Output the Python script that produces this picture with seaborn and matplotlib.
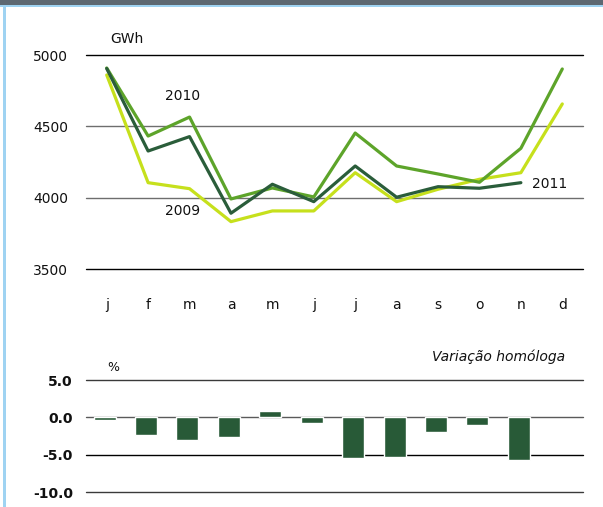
import numpy as np
import pandas as pd
import matplotlib
matplotlib.use('Agg')
import matplotlib.pyplot as plt
from matplotlib.patches import Rectangle
import seaborn as sns

# Monthly electricity consumption (GWh)
months = ['j', 'f', 'm', 'a', 'm', 'j', 'j', 'a', 's', 'o', 'n', 'd']
gwh_2009 = [4860, 4105, 4063, 3832, 3907, 3907, 4175, 3972, 4059, 4129, 4175, 4657]
gwh_2010 = [4909, 4432, 4565, 3991, 4068, 4005, 4453, 4222, 4166, 4108, 4346, 4902]
gwh_2011 = [4905, 4327, 4428, 3891, 4094, 3972, 4222, 4003, 4077, 4066, 4105]

# Year-on-year change (%) 2011 vs 2010
var_hom = [-0.3, -2.3, -3.0, -2.6, 0.9, -0.8, -5.5, -5.3, -2.0, -1.0, -5.7]

colors = {'2009': '#c6e01c', '2010': '#5da42a', '2011': '#2a5d3a'}
bar_color = '#285a37'

sns.set_theme(style='white')
plt.rcParams['font.family'] = ['DejaVu Sans']

# long form table for the lines
rows = []
for year, vals in [('2009', gwh_2009), ('2010', gwh_2010), ('2011', gwh_2011)]:
    for i, v in enumerate(vals):
        rows.append({'month': i, 'gwh': v, 'year': year})
df = pd.DataFrame(rows)

fig = plt.figure(figsize=(6.03, 5.07), dpi=100)

# frame decoration: dark banner and light blue border
fig.patches.append(Rectangle((0, 1 - 5.5 / 507), 1, 5.5 / 507, transform=fig.transFigure,
                             facecolor='#5d6872', edgecolor='none'))
fig.patches.append(Rectangle((0, 1 - 7 / 507), 1, 1.8 / 507, transform=fig.transFigure,
                             facecolor='#9fd3f2', edgecolor='none'))
fig.patches.append(Rectangle((3.5 / 603, 0), 2 / 603, 1 - 5.5 / 507, transform=fig.transFigure,
                             facecolor='#9fd3f2', edgecolor='none'))

# ---- top chart: GWh lines ----
ax1 = fig.add_axes([86 / 603, 1 - 269 / 507, 497 / 603, 214 / 507])
sns.lineplot(data=df, x='month', y='gwh', hue='year', palette=colors,
             linewidth=2.3, legend=False, ax=ax1)
ax1.set_xlim(-0.5, 11.5)
ax1.set_ylim(3500, 5000)
for y, c in [(5000, '#000000'), (4500, '#6e6e6e'), (4000, '#6e6e6e'), (3500, '#000000')]:
    ax1.axhline(y, color=c, linewidth=1.0, zorder=0, clip_on=False)
for s in ax1.spines.values():
    s.set_visible(False)
ax1.set_yticks([3500, 4000, 4500, 5000])
ax1.set_yticklabels(['3500', '4000', '4500', '5000'])
ax1.set_xticks(range(12))
ax1.set_xticklabels(months)
ax1.tick_params(axis='y', length=0, pad=13, labelsize=10, colors='#111111')
ax1.tick_params(axis='x', length=0, pad=21, labelsize=10, colors='#111111')
ax1.set_xlabel('')
ax1.set_ylabel('')
ax1.text((127 - 86) / 497, (269 - 39) / 214, 'GWh', transform=ax1.transAxes,
         fontsize=10, ha='center', va='center', color='#111111')
ax1.text(1.83, 4713, '2010', fontsize=10, ha='center', va='center', color='#111111')
ax1.text(1.83, 3907, '2009', fontsize=10, ha='center', va='center', color='#111111')
ax1.text(10.28, 4096, '2011', fontsize=10, ha='left', va='center', color='#111111')

# ---- bottom chart: year-on-year change ----
ax2 = fig.add_axes([86 / 603, 1 - 492 / 507, 497 / 603, 112 / 507])
sns.barplot(x=list(range(len(var_hom))), y=var_hom, color=bar_color, width=0.53,
            saturation=1, ax=ax2)
ax2.set_xlim(-0.45, 11.55)
ax2.set_ylim(-10, 5)
for y, c in [(5, '#3a3a3a'), (0, '#5a5a5a'), (-5, '#000000'), (-10, '#3a3a3a')]:
    ax2.axhline(y, color=c, linewidth=1.0, zorder=0, clip_on=False)
for s in ax2.spines.values():
    s.set_visible(False)
ax2.set_yticks([-10, -5, 0, 5])
ax2.set_yticklabels(['-10.0', '-5.0', '0.0', '5.0'], fontweight='bold')
ax2.set_xticks([])
ax2.tick_params(axis='y', length=0, pad=9.5, labelsize=10, colors='#111111')
ax2.set_xlabel('')
ax2.set_ylabel('')
ax2.text((113 - 86) / 497, (492 - 368) / 112, '%', transform=ax2.transAxes,
         fontsize=9, ha='center', va='center', color='#111111')
ax2.text((565 - 86) / 497, (492 - 357) / 112, 'Variação homóloga', transform=ax2.transAxes,
         fontsize=10, style='italic', ha='right', va='center', color='#111111')

fig.savefig('out.png', dpi=100)
